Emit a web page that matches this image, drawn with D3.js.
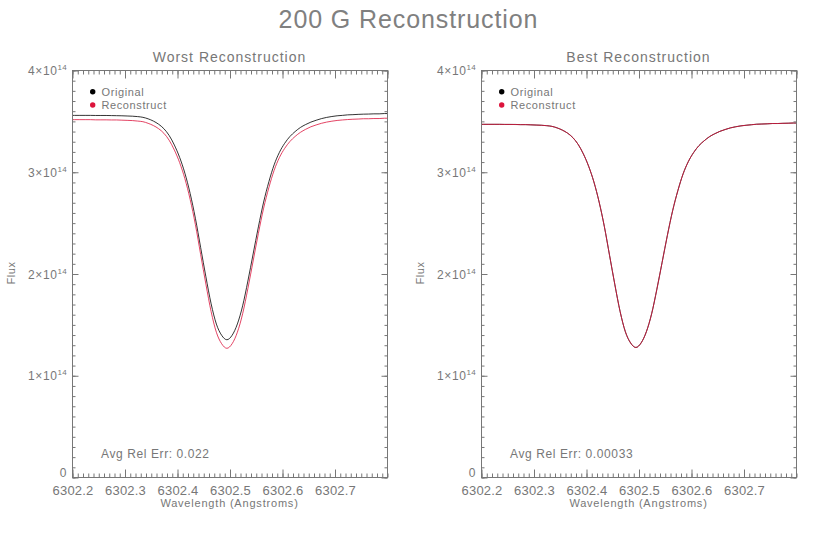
<!DOCTYPE html>
<html>
<head>
<meta charset="utf-8">
<script src="https://cdn.jsdelivr.net/npm/d3@7"></script>
<style>
  html, body { margin: 0; padding: 0; background: #fff; }
  svg { display: block; font-family: "Liberation Sans", Arial, sans-serif; }
  .axis path.domain { display: none; }
  .axis line { stroke: #777; stroke-width: 1; }
  .axis text { fill: #777; font-size: 13px; letter-spacing: 0.2px; font-family: "Liberation Sans", Arial, sans-serif; }
</style>
</head>
<body>
<svg id="chart" width="817" height="545"></svg>
<script>
// ---------------- DATA ----------------
const wavelengths = [6302.200, 6302.205, 6302.215, 6302.225, 6302.235, 6302.245, 6302.255, 6302.265, 6302.275, 6302.285,
  6302.295, 6302.305, 6302.315, 6302.325, 6302.335, 6302.345, 6302.355, 6302.365, 6302.375, 6302.385,
  6302.395, 6302.405, 6302.415, 6302.425, 6302.435, 6302.445, 6302.455, 6302.465, 6302.475, 6302.485,
  6302.495, 6302.505, 6302.515, 6302.525, 6302.535, 6302.545, 6302.555, 6302.565, 6302.575, 6302.585,
  6302.595, 6302.605, 6302.615, 6302.625, 6302.635, 6302.645, 6302.655, 6302.665, 6302.675, 6302.685,
  6302.695, 6302.705, 6302.715, 6302.725, 6302.735, 6302.745, 6302.755, 6302.765, 6302.775, 6302.785,
  6302.795, 6302.800];

// flux in units of 1e14
const worstOriginal = [3.554, 3.554, 3.554, 3.554, 3.554, 3.553, 3.553, 3.553, 3.552, 3.551,
  3.550, 3.548, 3.546, 3.542, 3.535, 3.520, 3.498, 3.467, 3.423, 3.357,
  3.262, 3.141, 2.986, 2.787, 2.543, 2.256, 1.968, 1.702, 1.503, 1.393,
  1.349, 1.393, 1.504, 1.682, 1.926, 2.192, 2.458, 2.702, 2.902, 3.068,
  3.190, 3.279, 3.346, 3.395, 3.435, 3.464, 3.488, 3.506, 3.522, 3.534,
  3.543, 3.550, 3.554, 3.559, 3.561, 3.564, 3.566, 3.567, 3.569, 3.569,
  3.572, 3.572];
const worstReconstruct = [3.512, 3.512, 3.512, 3.512, 3.512, 3.510, 3.510, 3.510, 3.509, 3.509,
  3.507, 3.505, 3.503, 3.498, 3.492, 3.476, 3.454, 3.423, 3.378, 3.310,
  3.213, 3.090, 2.932, 2.729, 2.481, 2.188, 1.896, 1.625, 1.422, 1.310,
  1.265, 1.310, 1.423, 1.604, 1.852, 2.123, 2.394, 2.642, 2.845, 3.014,
  3.139, 3.229, 3.297, 3.347, 3.387, 3.417, 3.442, 3.460, 3.476, 3.488,
  3.497, 3.504, 3.509, 3.513, 3.516, 3.518, 3.521, 3.521, 3.523, 3.523,
  3.526, 3.526];
const bestOriginal = [3.466, 3.466, 3.466, 3.466, 3.466, 3.465, 3.465, 3.465, 3.463, 3.463,
  3.461, 3.459, 3.457, 3.453, 3.446, 3.431, 3.409, 3.379, 3.335, 3.269,
  3.175, 3.054, 2.900, 2.702, 2.460, 2.174, 1.889, 1.625, 1.427, 1.317,
  1.273, 1.318, 1.428, 1.604, 1.846, 2.110, 2.375, 2.617, 2.815, 2.980,
  3.101, 3.189, 3.256, 3.304, 3.344, 3.373, 3.397, 3.415, 3.431, 3.442,
  3.451, 3.457, 3.462, 3.467, 3.469, 3.471, 3.474, 3.474, 3.476, 3.477,
  3.479, 3.479];
const bestReconstruct = [3.466, 3.466, 3.466, 3.466, 3.466, 3.465, 3.465, 3.464, 3.463, 3.463,
  3.461, 3.459, 3.457, 3.453, 3.446, 3.431, 3.409, 3.379, 3.335, 3.269,
  3.175, 3.054, 2.901, 2.702, 2.460, 2.174, 1.889, 1.625, 1.427, 1.317,
  1.273, 1.318, 1.428, 1.604, 1.846, 2.110, 2.375, 2.617, 2.815, 2.980,
  3.101, 3.189, 3.256, 3.304, 3.344, 3.373, 3.397, 3.415, 3.431, 3.442,
  3.451, 3.457, 3.462, 3.467, 3.469, 3.471, 3.474, 3.474, 3.476, 3.477,
  3.479, 3.479];

const fluxUnit = 1e14;
const xTickValues = [6302.2, 6302.3, 6302.4, 6302.5, 6302.6, 6302.7];
const xTickLabels = ["6302.2", "6302.3", "6302.4", "6302.5", "6302.6", "6302.7"];
const yTickValues = [0, 1e14, 2e14, 3e14, 4e14];
const yTickMantissa = ["0", "1", "2", "3", "4"];
const yTickExponent = "14";
const seriesNames = ["Original", "Reconstruct"];
const panelTitles = ["Worst Reconstruction", "Best Reconstruction"];
const avgRelErr = ["0.022", "0.00033"];
const mainTitle = "200 G Reconstruction";

// ---------------- LAYOUT ----------------
const svg = d3.select("#chart");
const W = 817;
const plotTop = 70, plotBottom = 477, plotW = 315;
const panelLeft = [72, 481];
const xDomain = [6302.2, 6302.8];
const yDomain = [0, 4e14];
const colors = ["#000000", "#dc143c"];
const textColor = "#777777";

svg.append("text")
  .attr("x", W / 2).attr("y", 28)
  .attr("text-anchor", "middle")
  .attr("fill", "#808080")
  .style("font-size", "25px")
  .style("letter-spacing", "0.9px")
  .text(mainTitle);

const panels = [
  { orig: worstOriginal, recon: worstReconstruct },
  { orig: bestOriginal, recon: bestReconstruct }
];

const xMinor = d3.range(0, 61).map(i => xDomain[0] + i * 0.01);
const xMajor = d3.range(0, 7).map(i => xDomain[0] + i * 0.1);
const yMinor = d3.range(0, 41).map(i => i * 1e13);

panels.forEach((p, pi) => {
  const x0 = panelLeft[pi];
  const x = d3.scaleLinear().domain(xDomain).range([x0, x0 + plotW]);
  const y = d3.scaleLinear().domain(yDomain).range([plotBottom, plotTop]);
  const g = svg.append("g");

  // curves
  const line = d3.line()
    .x((d, i) => x(wavelengths[i]))
    .y(d => y(d * fluxUnit))
    .curve(d3.curveMonotoneX);
  g.append("path").datum(p.orig)
    .attr("d", line).attr("fill", "none")
    .attr("stroke", colors[0]).attr("stroke-width", 0.8);
  g.append("path").datum(p.recon)
    .attr("d", line).attr("fill", "none")
    .attr("stroke", colors[1]).attr("stroke-width", 0.8);

  // box
  g.append("rect")
    .attr("x", x0 + 0.5).attr("y", plotTop + 0.5)
    .attr("width", plotW).attr("height", plotBottom - plotTop)
    .attr("fill", "none").attr("stroke", "#777").attr("stroke-width", 1);

  // bottom axis
  g.append("g").attr("class", "axis")
    .attr("transform", `translate(0.5,${plotBottom + 0.5})`)
    .call(d3.axisBottom(x).tickValues(xMinor).tickSize(-4).tickFormat("").tickSizeOuter(0));
  g.append("g").attr("class", "axis")
    .attr("transform", `translate(0.5,${plotBottom + 0.5})`)
    .call(d3.axisBottom(x).tickValues(xTickValues).tickSize(-8).tickPadding(8)
      .tickFormat((d, i) => xTickLabels[i]).tickSizeOuter(0));
  // top axis
  g.append("g").attr("class", "axis")
    .attr("transform", `translate(0.5,${plotTop + 0.5})`)
    .call(d3.axisTop(x).tickValues(xMinor).tickSize(-4).tickFormat("").tickSizeOuter(0));
  g.append("g").attr("class", "axis")
    .attr("transform", `translate(0.5,${plotTop + 0.5})`)
    .call(d3.axisTop(x).tickValues(xMajor).tickSize(-8).tickFormat("").tickSizeOuter(0));
  // left axis
  g.append("g").attr("class", "axis")
    .attr("transform", `translate(${x0 + 0.5},0.5)`)
    .call(d3.axisLeft(y).tickValues(yMinor).tickSize(-3).tickFormat("").tickSizeOuter(0));
  g.append("g").attr("class", "axis")
    .attr("transform", `translate(${x0 + 0.5},0.5)`)
    .call(d3.axisLeft(y).tickValues(yTickValues).tickSize(-6).tickFormat("").tickSizeOuter(0));
  // right axis
  g.append("g").attr("class", "axis")
    .attr("transform", `translate(${x0 + plotW + 0.5},0.5)`)
    .call(d3.axisRight(y).tickValues(yMinor).tickSize(-3).tickFormat("").tickSizeOuter(0));
  g.append("g").attr("class", "axis")
    .attr("transform", `translate(${x0 + plotW + 0.5},0.5)`)
    .call(d3.axisRight(y).tickValues(yTickValues).tickSize(-6).tickFormat("").tickSizeOuter(0));

  // y tick labels with superscript
  yTickValues.forEach((v, i) => {
    const t = g.append("text")
      .attr("x", x0 - 5).attr("y", y(v) + (v === 0 ? 0 : 5))
      .attr("text-anchor", "end")
      .attr("fill", textColor)
      .style("font-size", "12px")
      .style("letter-spacing", "0.6px");
    if (v === 0) {
      t.text(yTickMantissa[i]);
    } else {
      t.append("tspan").text(yTickMantissa[i] + "\u00d710");
      t.append("tspan").attr("dy", -5).style("font-size", "8px").style("letter-spacing", "0.3px").text(yTickExponent);
    }
  });

  // panel title
  g.append("text")
    .attr("x", x0 + plotW / 2).attr("y", 62)
    .attr("text-anchor", "middle").attr("fill", textColor)
    .style("font-size", "14px").style("letter-spacing", "1px")
    .text(panelTitles[pi]);

  // axis titles
  g.append("text")
    .attr("x", x0 + plotW / 2).attr("y", 507)
    .attr("text-anchor", "middle").attr("fill", textColor)
    .style("font-size", "11px").style("letter-spacing", "0.8px")
    .text("Wavelength (Angstroms)");
  g.append("text")
    .attr("transform", `translate(${x0 - 57},273) rotate(-90)`)
    .attr("text-anchor", "middle").attr("fill", textColor)
    .style("font-size", "11px").style("letter-spacing", "0.5px")
    .text("Flux");

  // legend
  const legY = [91.7, 105];
  const legBase = [96, 108.8];
  seriesNames.forEach((name, si) => {
    g.append("circle")
      .attr("cx", x0 + 20.7).attr("cy", legY[si]).attr("r", 2.7)
      .attr("fill", colors[si]);
    g.append("text")
      .attr("x", x0 + 29.5).attr("y", legBase[si])
      .attr("fill", textColor)
      .style("font-size", "11px").style("letter-spacing", "0.6px")
      .text(name);
  });

  // error text
  g.append("text")
    .attr("x", x0 + 29).attr("y", 458)
    .attr("fill", textColor)
    .style("font-size", "12px").style("letter-spacing", "0.6px")
    .text("Avg Rel Err: " + avgRelErr[pi]);
});
</script>
</body>
</html>
